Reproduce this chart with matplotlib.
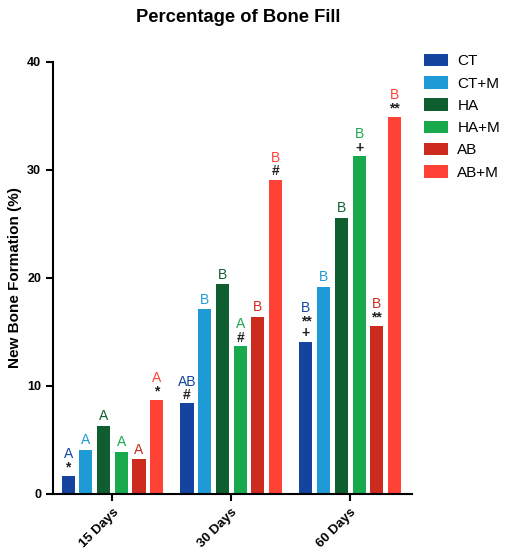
import matplotlib.pyplot as plt
import numpy as np

plt.rcParams['font.family'] = ['Liberation Sans', 'DejaVu Sans']

# данные
days = ['15 Days', '30 Days', '60 Days']
groups = ['CT', 'CT+M', 'HA', 'HA+M', 'AB', 'AB+M']
colors = ['#1444a0', '#1e9bd7', '#0f5e2f', '#18a94c', '#cc2b1e', '#ff4136']

ct = [1.7, 8.4, 14.1]
ct_m = [4.1, 17.1, 19.2]
ha = [6.3, 19.4, 25.6]
ha_m = [3.9, 13.7, 31.3]
ab = [3.2, 16.4, 15.6]
ab_m = [8.7, 29.1, 34.9]
values = [ct, ct_m, ha, ha_m, ab, ab_m]

# буквы и значки над столбиками
letters = [['A', 'AB', 'B'], ['A', 'B', 'B'], ['A', 'B', 'B'],
           ['A', 'A', 'B'], ['A', 'B', 'B'], ['A', 'B', 'B']]
marks = [['*', '#', '**\n+'], ['', '', ''], ['', '', ''],
         ['', '#', '+'], ['', '', '**'], ['*', '#', '**']]

fig = plt.figure(figsize=(5.13, 5.52), dpi=100)
ax = fig.add_axes([53/513, 1-494/552, (412-53)/513, (494-62)/552])

x = np.arange(len(days))
pitch = 0.149
width = 0.11
for i, (g, vals) in enumerate(zip(groups, values)):
    pos = x + (i - 2.5) * pitch
    ax.bar(pos, vals, width, color=colors[i], label=g)
    for j in range(len(days)):
        m = marks[i][j]
        n = m.count('\n') + 1 if m else 0
        if m:
            ax.annotate(m, (pos[j], vals[j]), xytext=(0, 1), textcoords='offset points',
                        ha='center', va='bottom', fontsize=10, fontweight='bold',
                        linespacing=0.85, color='#222222')
        ax.annotate(letters[i][j], (pos[j], vals[j]),
                    xytext=(0, 2 + n * 8.5), textcoords='offset points',
                    ha='center', va='bottom', fontsize=10, color=colors[i])

ax.set_xlim(-0.5, 2.52)
ax.set_ylim(0, 40)
ax.set_yticks([0, 10, 20, 30, 40])
ax.set_xticks(x)
ax.set_xticklabels(days, rotation=45, ha='right', rotation_mode='anchor',
                   fontweight='bold', fontsize=9.5)
for lab in ax.get_yticklabels():
    lab.set_fontweight('bold')
    lab.set_fontsize(9)
ax.tick_params(width=1.5, length=5)
for s in ['top', 'right']:
    ax.spines[s].set_visible(False)
for s in ['left', 'bottom']:
    ax.spines[s].set_linewidth(1.5)

ax.set_ylabel('New Bone Formation (%)', fontweight='bold', fontsize=11, labelpad=4)
fig.text(238/513, 1 - 17/552, 'Percentage of Bone Fill',
         ha='center', va='center', fontweight='bold', fontsize=13.2)

fig.legend(loc='upper left', bbox_to_anchor=(410/513, 1 - 40/552), frameon=False,
           fontsize=11, handlelength=1.6, handleheight=0.9, labelspacing=0.5,
           handletextpad=0.6)

plt.savefig('out.png', dpi=100)
